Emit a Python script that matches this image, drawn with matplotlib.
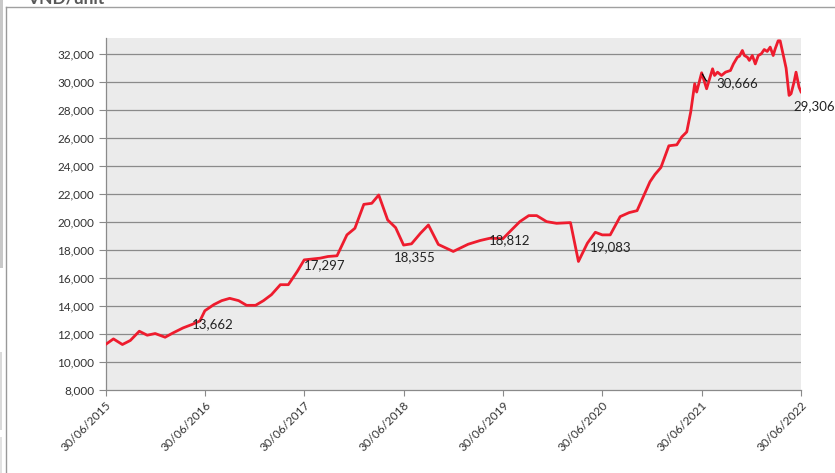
import matplotlib
matplotlib.use("Agg")
import matplotlib.pyplot as plt
from matplotlib.lines import Line2D
from matplotlib.patches import Rectangle

plt.rcParams['font.family'] = ['Lato', 'DejaVu Sans']

# ---- data (decimal years, VND per unit) ----
years = [2015.50, 2015.58, 2015.67, 2015.75, 2015.84, 2015.92, 2016.00, 2016.10, 2016.18, 2016.28,
         2016.37, 2016.45, 2016.50, 2016.59, 2016.67, 2016.75, 2016.84, 2016.92, 2017.01, 2017.09,
         2017.17, 2017.26, 2017.34, 2017.43, 2017.50, 2017.66, 2017.74, 2017.83, 2017.93, 2018.01,
         2018.10, 2018.18, 2018.25, 2018.34, 2018.42, 2018.50, 2018.58, 2018.67, 2018.75, 2018.85,
         2019.00, 2019.15, 2019.27, 2019.37, 2019.50, 2019.57, 2019.67, 2019.76, 2019.84, 2019.94,
         2020.04, 2020.18, 2020.26, 2020.35, 2020.43, 2020.50, 2020.58, 2020.68, 2020.77, 2020.85,
         2020.98, 2021.03, 2021.09, 2021.17, 2021.25, 2021.30, 2021.35, 2021.39, 2021.43, 2021.45,
         2021.48, 2021.50, 2021.55, 2021.58, 2021.61, 2021.63, 2021.66, 2021.70, 2021.74, 2021.79,
         2021.82, 2021.86, 2021.88, 2021.91, 2021.93, 2021.96, 2021.98, 2022.01, 2022.04, 2022.07,
         2022.10, 2022.13, 2022.16, 2022.19, 2022.22, 2022.24, 2022.27, 2022.29, 2022.33, 2022.35,
         2022.38, 2022.40, 2022.43, 2022.45, 2022.48, 2022.50]
values = [11250, 11650, 11250, 11540, 12200, 11915, 12035, 11770, 12080, 12435,
          12680, 12935, 13662, 14100, 14385, 14550, 14385, 14050, 14050, 14385,
          14810, 15525, 15525, 16470, 17297, 17420, 17540, 17590, 19085, 19555,
          21265, 21340, 21935, 20150, 19600, 18355, 18445, 19200, 19790, 18400,
          17900, 18415, 18680, 18845, 18812, 19320, 20030, 20460, 20460, 20030,
          19910, 19960, 17185, 18490, 19270, 19083, 19085, 20390, 20675, 20815,
          22880, 23400, 23900, 25450, 25520, 26085, 26440, 27865, 29880, 29290,
          30120, 30666, 29525, 30240, 30950, 30475, 30710, 30475, 30710, 30830,
          31300, 31780, 31850, 32260, 31900, 31780, 31550, 31900, 31300, 31900,
          32020, 32330, 32190, 32500, 31900, 32375, 32950, 32950, 31660, 31000,
          29050, 29170, 30000, 30710, 29645, 29306]
assert len(years) == len(values)

tick_years = [2015.5, 2016.5, 2017.5, 2018.5, 2019.5, 2020.5, 2021.5, 2022.5]
tick_labels = ["30/06/2015", "30/06/2016", "30/06/2017", "30/06/2018",
               "30/06/2019", "30/06/2020", "30/06/2021", "30/06/2022"]
y_ticks = [8000, 10000, 12000, 14000, 16000, 18000, 20000, 22000, 24000,
           26000, 28000, 30000, 32000]
label_years = [2016.50, 2017.50, 2018.50, 2019.50, 2020.50, 2021.50, 2022.50]
unit_label = "VND/unit"

# label offsets in pixels (style)
label_offsets = [(7.5, -13), (20, -5.5), (11.5, -12), (7, -1), (8, -12), (36, -10), (13, -14.5)]

W, H = 835, 473
fig = plt.figure(figsize=(W / 100, H / 100), dpi=100)
fig.patch.set_facecolor('white')

ax = fig.add_axes([105.5 / W, 1 - 390 / H, (801 - 105.5) / W, (390 - 38.3) / H])
ax.set_facecolor('#EBEBEB')
ax.set_xlim(2015.5, 2022.5)
ax.set_ylim(8000, 33130)

for yv in y_ticks[1:]:
    ax.axhline(yv, color='#8A8A8A', lw=0.9, zorder=1)

ax.plot(years, values, color='#EE1C2E', lw=2.0, zorder=3, solid_joinstyle='round')

ax.set_yticks(y_ticks)
ax.set_yticklabels([f"{v:,}" for v in y_ticks], fontsize=8.5, color='#333333')
ax.set_xticks(tick_years)
ax.set_xticklabels(tick_labels, rotation=45, ha='right', va='top',
                   rotation_mode='anchor', fontsize=8.5, color='#333333')
ax.tick_params(axis='y', direction='out', length=5, width=0.8, color='#8A8A8A', pad=3)
ax.tick_params(axis='x', direction='out', length=4, width=0.8, color='#8A8A8A', pad=3)

for s in ['top', 'right']:
    ax.spines[s].set_visible(False)
for s in ['left', 'bottom']:
    ax.spines[s].set_color('#8A8A8A')
    ax.spines[s].set_linewidth(0.9)

for ly, (dx, dy) in zip(label_years, label_offsets):
    i = min(range(len(years)), key=lambda k: abs(years[k] - ly))
    v = values[i]
    if ly == 2021.50:
        ax.annotate(f"{v:,}", xy=(years[i], v), xytext=(dx, dy), textcoords='offset pixels',
                    ha='center', va='center', fontsize=9.5, color='#222222', zorder=4,
                    arrowprops=dict(arrowstyle='-', color='black', lw=0.9, shrinkA=5, shrinkB=1,
                                    relpos=(0, 0.65),
                                    connectionstyle='angle,angleA=0,angleB=120'))
    else:
        ax.annotate(f"{v:,}", xy=(years[i], v), xytext=(dx, dy), textcoords='offset pixels',
                    ha='center', va='center', fontsize=9.5, color='#222222', zorder=4,
                    annotation_clip=False)

# screenshot frame elements
fig.add_artist(Line2D([5.5 / W, 1], [1 - 7 / H, 1 - 7 / H], transform=fig.transFigure,
                      color='#A0A0A0', lw=1.0))
fig.add_artist(Line2D([5.5 / W, 5.5 / W], [0, 1 - 7 / H], transform=fig.transFigure,
                      color='#999999', lw=1.0))
fig.add_artist(Rectangle((0, 1 - 268 / H), 3 / W, 268 / H, transform=fig.transFigure,
                         facecolor='#C8C8C8', edgecolor='none'))
fig.add_artist(Rectangle((0, 1 - 430 / H), 2 / W, 78 / H, transform=fig.transFigure,
                         facecolor='#DADADA', edgecolor='none'))
fig.add_artist(Rectangle((0, 0), 2 / W, 36 / H, transform=fig.transFigure,
                         facecolor='#E2E2E2', edgecolor='none'))
fig.text(27 / W, 1 - 3.5 / H, unit_label, ha='left', va='baseline', fontsize=12.5,
         fontweight='bold', color='#595959')

fig.savefig("out.png", dpi=100)
